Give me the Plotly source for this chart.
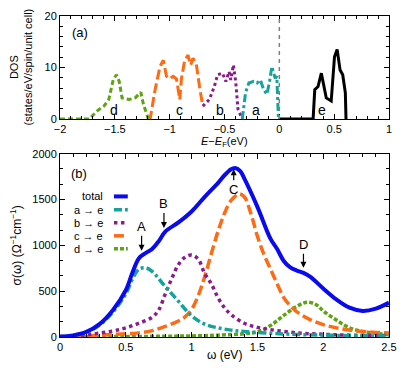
import plotly.graph_objects as go

# ---------------- Panel (a): DOS ----------------
E_d = [-2.0, -1.734, -1.66, -1.60, -1.555, -1.515, -1.485, -1.46, -1.434, -1.37, -1.314, -1.263, -1.24, -1.194]
dos_d = [0, 0, 1.6, 2.5, 3.8, 7.6, 8.6, 7.3, 4.1, 3.8, 4.1, 5.2, 2.9, 0]

E_c = [-1.194, -1.178, -1.133, -1.088, -1.058, -1.029, -1.0, -0.968, -0.938, -0.908, -0.893, -0.863, -0.833, -0.808, -0.788, -0.758, -0.728, -0.698]
dos_c = [0, 0, 5.7, 10.2, 11.4, 8.3, 7.8, 8.3, 7.8, 3.8, 7.8, 11.4, 12.4, 10.5, 11.8, 10.8, 6.3, 2.5]

E_b = [-0.698, -0.688, -0.638, -0.593, -0.563, -0.518, -0.488, -0.458, -0.443, -0.419, -0.398, -0.377, -0.338]
dos_b = [2.5, 2.7, 3.8, 6.3, 8.6, 8.9, 7.3, 9.2, 7.6, 10.5, 7.3, 1.9, 0]

E_a = [-0.338, -0.308, -0.278, -0.233, -0.203, -0.173, -0.143, -0.113, -0.089, -0.068, -0.038, -0.023, -0.008]
dos_a = [0, 5.1, 7.0, 7.3, 7.0, 7.6, 5.7, 4.8, 7.3, 10.2, 7.9, 8.3, 0]

E_e = [-0.008, 0.308, 0.323, 0.353, 0.383, 0.404, 0.428, 0.473, 0.503, 0.527, 0.554, 0.578, 0.602, 0.608]
dos_e = [0, 0, 5.7, 6.3, 8.9, 6.3, 4.1, 3.5, 12.1, 13.5, 9.5, 8.6, 5.1, 0]

band_labels = ["d", "c", "b", "a", "e"]
band_label_E = [-1.51, -0.91, -0.54, -0.21, 0.39]
band_label_dos = [1.7, 1.7, 1.7, 1.7, 1.7]

# ---------------- Panel (b): optical conductivity ----------------
w_total = [0, 0.1, 0.2, 0.3, 0.4, 0.5, 0.55, 0.6, 0.65, 0.7, 0.75, 0.8, 0.9, 1.0, 1.1, 1.2, 1.25, 1.3, 1.33,
           1.37, 1.4, 1.5, 1.6, 1.65, 1.7, 1.75, 1.8, 1.85, 1.9, 2.0, 2.1, 2.2, 2.3, 2.4, 2.5]
s_total = [5, 18, 55, 140, 290, 510, 700, 860, 915, 960, 1045, 1150, 1250, 1370, 1530, 1680, 1765, 1830, 1845,
           1810, 1730, 1420, 1070, 960, 830, 760, 725, 700, 660, 530, 410, 320, 285, 310, 375]

w_a = [0, 0.1, 0.2, 0.3, 0.4, 0.5, 0.55, 0.6, 0.65, 0.7, 0.8, 0.9, 1.0, 1.1, 1.2, 1.3, 1.4, 1.6, 1.8, 2.0, 2.2, 2.5]
s_a = [3, 15, 50, 130, 270, 470, 630, 740, 755, 715, 550, 390, 230, 140, 100, 75, 60, 40, 28, 20, 15, 10]

w_b = [0, 0.2, 0.4, 0.5, 0.6, 0.7, 0.75, 0.8, 0.85, 0.9, 0.95, 1.0, 1.05, 1.1, 1.15, 1.2, 1.25, 1.3, 1.4, 1.5,
       1.6, 1.8, 2.0, 2.2, 2.5]
s_b = [3, 25, 65, 100, 150, 215, 295, 470, 640, 790, 870, 895, 850, 690, 580, 430, 320, 245, 150, 105,
       80, 45, 30, 20, 15]

w_c = [0, 0.2, 0.4, 0.6, 0.7, 0.8, 0.9, 0.95, 1.0, 1.05, 1.1, 1.15, 1.2, 1.25, 1.3, 1.36, 1.4, 1.45, 1.5, 1.55,
       1.6, 1.65, 1.7, 1.75, 1.8, 1.9, 2.0, 2.1, 2.2, 2.3, 2.4, 2.5]
s_c = [3, 12, 28, 45, 70, 115, 175, 220, 300, 450, 660, 910, 1150, 1350, 1490, 1560, 1530, 1350, 1100, 900,
       740, 580, 430, 340, 275, 190, 135, 100, 75, 60, 50, 45]

w_d = [0, 0.5, 1.0, 1.2, 1.4, 1.5, 1.6, 1.7, 1.8, 1.88, 1.95, 2.0, 2.1, 2.2, 2.3, 2.4, 2.5]
s_d = [2, 5, 12, 20, 35, 55, 125, 235, 335, 380, 350, 285, 185, 100, 60, 40, 25]

legend_names = ["total", "a \u2192 e", "b \u2192 e", "c \u2192 e", "d \u2192 e"]

peak_labels = ["A", "B", "C", "D"]
peak_w = [0.62, 0.79, 1.32, 1.85]
peak_s = [940, 1190, 1830, 755]

# ---------------- styles ----------------
FONT = "Liberation Sans, Arial, sans-serif"
C_TOTAL = "#0a0af0"
C_A = "#12a39a"
C_B = "#8b1a8e"
C_C = "#ff6a12"
C_D = "#5ea412"
C_E = "#000000"

fig = go.Figure()

# Panel (a) traces
dos_series = [
    (E_d, dos_d, C_D, "5px,3px"),
    (E_c, dos_c, C_C, "10px,4px"),
    (E_b, dos_b, C_B, "dot"),
    (E_a, dos_a, C_A, "8px,3px,3px,3px"),
    (E_e, dos_e, C_E, "solid"),
]
for xs, ys, col, dash in dos_series:
    fig.add_trace(go.Scatter(x=xs, y=ys, mode="lines", xaxis="x", yaxis="y",
                             line=dict(color=col, width=3, dash=dash), showlegend=False))

# Panel (b) traces (components first, total on top)
cond_series = [
    (w_d, s_d, C_D, "4px,2px", 3.5, legend_names[4]),
    (w_c, s_c, C_C, "10px,4px", 3.5, legend_names[3]),
    (w_b, s_b, C_B, "dot", 3.5, legend_names[2]),
    (w_a, s_a, C_A, "8px,3px,3px,3px", 3.5, legend_names[1]),
    (w_total, s_total, C_TOTAL, "solid", 4, legend_names[0]),
]
for xs, ys, col, dash, wd, nm in cond_series:
    fig.add_trace(go.Scatter(x=xs, y=ys, mode="lines", xaxis="x2", yaxis="y2", name=nm,
                             line=dict(color=col, width=wd, dash=dash, shape="spline", smoothing=1.0),
                             showlegend=False))

axis_common = dict(showline=True, linecolor="black", linewidth=1, mirror="allticks",
                   ticks="inside", ticklen=5, tickwidth=1, tickcolor="black",
                   showgrid=False, zeroline=False,
                   tickfont=dict(family=FONT, size=11, color="black"))

fig.update_layout(
    width=407, height=368,
    margin=dict(l=60, r=14, t=10, b=31),
    paper_bgcolor="white", plot_bgcolor="white",
    font=dict(family=FONT, size=12, color="black"),
    xaxis=dict(domain=[0, 1], range=[-2, 1], dtick=0.5, anchor="y",
               minor=dict(dtick=0.1, ticks="inside", ticklen=3, tickcolor="black"), **axis_common),
    yaxis=dict(domain=[0.679, 1], range=[0, 20], dtick=10, anchor="x",
               minor=dict(dtick=2, ticks="inside", ticklen=3, tickcolor="black"), **axis_common),
    xaxis2=dict(domain=[0, 1], range=[0, 2.5], dtick=0.5, anchor="y2",
                minor=dict(dtick=0.1, ticks="inside", ticklen=3, tickcolor="black"), **axis_common),
    yaxis2=dict(domain=[0, 0.571], range=[0, 2000], dtick=500, anchor="x2",
                minor=dict(dtick=500 / 3, ticks="inside", ticklen=3, tickcolor="black"), **axis_common),
    showlegend=False,
)

# Fermi level line
fig.add_shape(type="line", xref="x", yref="y", x0=0, x1=0, y0=0, y1=20,
              line=dict(color="#808080", width=1.5, dash="4px,4px"))

annotations = []
for t, xe, yd in zip(band_labels, band_label_E, band_label_dos):
    annotations.append(dict(text=t, x=xe, y=yd, xref="x", yref="y", showarrow=False,
                            font=dict(family=FONT, size=14, color="black"), yanchor="middle"))
annotations.append(dict(text="(a)", x=-1.82, y=16.8, xref="x", yref="y", showarrow=False,
                        font=dict(family=FONT, size=13, color="black")))
annotations.append(dict(text="(b)", x=0.146, y=1780, xref="x2", yref="y2", showarrow=False,
                        font=dict(family=FONT, size=13, color="black")))

# axis titles
annotations.append(dict(text="<i>E</i>\u2212<i>E</i><sub>F</sub>(eV)", x=0.5, y=0.607, xref="paper", yref="paper",
                        showarrow=False, xanchor="center", yanchor="middle",
                        font=dict(family=FONT, size=11, color="black")))
annotations.append(dict(text="\u03c9 (eV)", x=0.5, y=-0.055, xref="paper", yref="paper",
                        showarrow=False, xanchor="center", yanchor="middle",
                        font=dict(family=FONT, size=12, color="black")))
annotations.append(dict(text="DOS<br>(states/eV/spin/unit cell)", x=-0.118, y=0.84, xref="paper", yref="paper",
                        showarrow=False, textangle=-90, xanchor="center", yanchor="middle",
                        font=dict(family=FONT, size=11, color="black")))
annotations.append(dict(text="\u03c3(\u03c9) (\u03a9<sup>\u22121</sup>cm<sup>\u22121</sup>)", x=-0.133, y=0.286,
                        xref="paper", yref="paper", showarrow=False, textangle=-90,
                        xanchor="center", yanchor="middle",
                        font=dict(family=FONT, size=12, color="black")))

# peak arrows
peak_ay = [-24, -24, 20, -23]
for t, xw, ys, ay in zip(peak_labels, peak_w, peak_s, peak_ay):
    annotations.append(dict(text=t, x=xw, y=ys, xref="x2", yref="y2", showarrow=True,
                            ax=0, ay=ay, arrowhead=2, arrowsize=1, arrowwidth=1.2, arrowcolor="black",
                            font=dict(family=FONT, size=13, color="black")))

# gnuplot-style legend (text right, sample line after)
leg_colors = [C_TOTAL, C_A, C_B, C_C, C_D]
leg_dashes = ["solid", "8px,3px,3px,3px", "dot", "10px,4px", "4px,2px"]
leg_widths = [4, 3.5, 3.5, 3.5, 3.5]
leg_y = [0.767, 0.694, 0.623, 0.552, 0.481]
for nm, col, dsh, wd, yy in zip(legend_names, leg_colors, leg_dashes, leg_widths, leg_y):
    annotations.append(dict(text=nm, x=0.137, y=yy, xref="x2 domain", yref="y2 domain", showarrow=False,
                            xanchor="right", yanchor="middle", font=dict(family=FONT, size=11, color="black")))
    fig.add_shape(type="line", xref="x2 domain", yref="y2 domain", x0=0.164, x1=0.206, y0=yy, y1=yy,
                  line=dict(color=col, width=wd, dash=dsh))

fig.update_layout(annotations=annotations)

fig.write_html("out.html", config={"displayModeBar": False},
               post_script="document.body.style.margin='0';")
